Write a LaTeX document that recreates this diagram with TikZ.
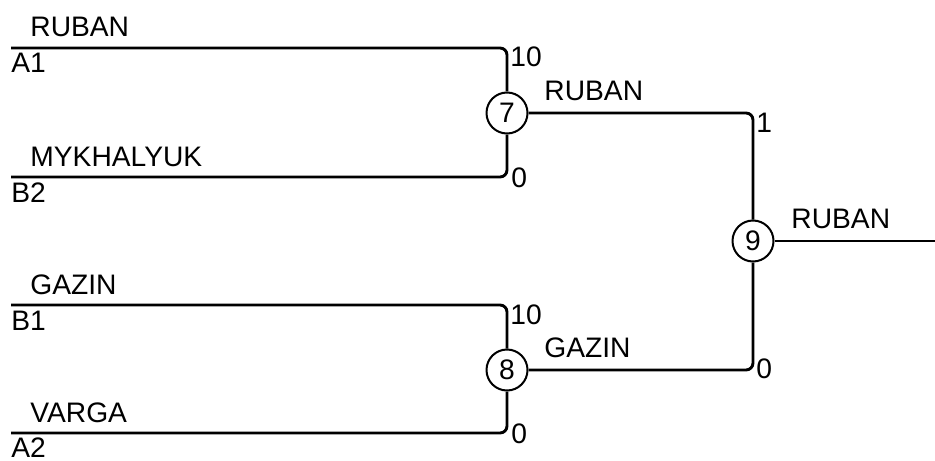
\documentclass[tikz,border=0pt]{standalone}
\usepackage{fontspec}
\setmainfont{Liberation Sans}
\usetikzlibrary{positioning, calc}

\begin{document}
\begin{tikzpicture}[
    x=0.5pt, y=-0.5pt,
    font=\fontsize{14.1}{16}\selectfont,
    wire/.style={line width=1.45pt, rounded corners=3.5pt},
    mnode/.style={draw, circle, line width=1pt, minimum size=20.5pt, inner sep=0pt},
    pname/.style={anchor=base west, inner sep=0pt},
    seed/.style={anchor=base west, inner sep=0pt},
    score/.style={anchor=base west, inner sep=0pt}
  ]
\useasboundingbox (0,0) rectangle (935,460);

% =================== matches ===================
\node[mnode] (m7) at (507,113) {7};
\node[mnode] (m8) at (507,370) {8};
\node[mnode] (m9) at (753,241) {9};

% entry points of the four players, and the free end on the right
\coordinate (a1) at (11,48);
\coordinate (b2) at (11,177);
\coordinate (b1) at (11,305);
\coordinate (a2) at (11,433);
\coordinate (out) at (935,241);

% =================== first round ===================
\draw[wire] (a1) -| (m7);
\draw[wire] (b2) -| (m7);
\draw[wire] (b1) -| (m8);
\draw[wire] (a2) -| (m8);

% names above, seeds below each line
\node[pname] (nA1) at (30,37)  {RUBAN};
\node[seed]  (sA1) at (11,73)  {A1};
\node[pname] (nB2) at (30,166) {MYKHALYUK};
\node[seed]  (sB2) at (11,202) {B2};
\node[pname] (nB1) at (30,294) {GAZIN};
\node[seed]  (sB1) at (11,330) {B1};
\node[pname] (nA2) at (30,422) {VARGA};
\node[seed]  (sA2) at (11,457) {A2};

% scores next to the corners
\node[score] (cA1) at (510,67)  {10};
\node[score] (cB2) at (511,187) {0};
\node[score] (cB1) at (510,324) {10};
\node[score] (cA2) at (511,443) {0};

% =================== final ===================
\draw[wire] (m7) -| (m9);
\draw[wire] (m8) -| (m9);
\draw[wire] (m9) -- (out);

\node[pname] (w7) at (544,100) {RUBAN};
\node[pname] (w8) at (544,357) {GAZIN};
\node[pname] (w9) at (791,228) {RUBAN};

\node[score] (c7) at (756,132) {1};
\node[score] (c8) at (756,378) {0};

\end{tikzpicture}
\end{document}
